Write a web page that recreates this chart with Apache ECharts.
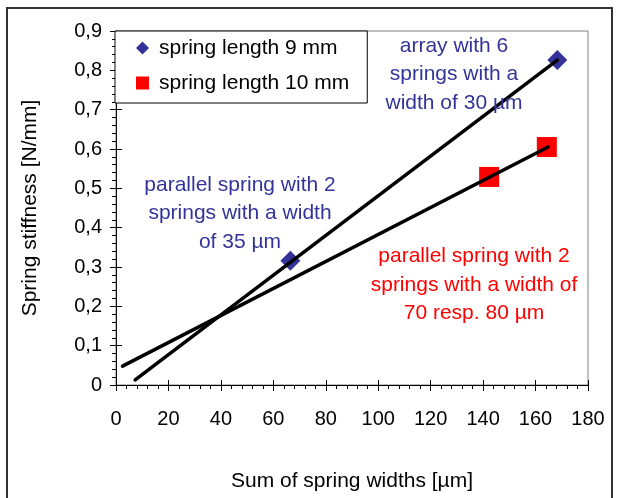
<!DOCTYPE html>
<html>
<head>
<meta charset="utf-8">
<title>Spring stiffness</title>
<script src="https://cdn.jsdelivr.net/npm/echarts@6/dist/echarts.min.js"></script>
<style>
  html, body { margin: 0; padding: 0; background: #fff; }
  #chart { width: 620px; height: 498px; }
</style>
</head>
<body>
<div id="chart"></div>
<script>
// 数据
var xTicks = [0, 20, 40, 60, 80, 100, 120, 140, 160, 180];
var yTicks = [0, 0.1, 0.2, 0.3, 0.4, 0.5, 0.6, 0.7, 0.8, 0.9];
var seriesNames = ['spring length 9 mm', 'spring length 10 mm'];
// spring length 9 mm
var len9Points = [[66.5, 0.316], [168.3, 0.826]];
// spring length 10 mm
var len10Points = [[142.3, 0.529], [164.3, 0.605]];
// trend lines (end points)
var len9Trend = [[7.3, 0.013], [168.3, 0.826]];
var len10Trend = [[2.5, 0.048], [164.8, 0.605]];
var notes = [
    'array with 6\nsprings with a\nwidth of 30 µm',
    'parallel spring with 2\nsprings with a width\nof 35 µm',
    'parallel spring with 2\nsprings with a width of\n70 resp. 80 µm'
];

var FONT = '"Liberation Sans", Arial, sans-serif';
var BLUE = '#333399';
var RED = '#ff0000';

var chart = echarts.init(document.getElementById('chart'), null, { renderer: 'canvas' });

function commaLabel(v) {
    if (v === 0) return '0';
    return v.toFixed(1).replace('.', ',');
}

var xMain = {
    type: 'value',
    position: 'bottom',
    min: xTicks[0],
    max: xTicks[xTicks.length - 1],
    interval: xTicks[1] - xTicks[0],
    name: 'Sum of spring widths [µm]',
    nameLocation: 'middle',
    nameGap: 86,
    nameTextStyle: { color: '#000', fontSize: 21, fontFamily: FONT },
    axisLine: { show: true, onZero: false, lineStyle: { color: '#000', width: 1 } },
    axisTick: { show: true, length: 6, lineStyle: { color: '#000' } },
    minorTick: { show: true, splitNumber: 5, length: 4, lineStyle: { color: '#000' } },
    axisLabel: { color: '#000', fontSize: 20, fontFamily: FONT, margin: 24 },
    splitLine: { show: false }
};
// inner half of the crossing major ticks
var xInner = {
    type: 'value',
    position: 'bottom',
    min: xMain.min, max: xMain.max, interval: xMain.interval,
    axisLine: { show: false },
    axisTick: { show: true, inside: true, length: 5, lineStyle: { color: '#000' } },
    axisLabel: { show: false },
    splitLine: { show: false }
};

var yMain = {
    type: 'value',
    position: 'left',
    min: yTicks[0],
    max: yTicks[yTicks.length - 1],
    interval: 0.1,
    name: 'Spring stiffness [N/mm]',
    nameLocation: 'middle',
    nameGap: 75,
    nameTextStyle: { color: '#000', fontSize: 21, fontFamily: FONT },
    axisLine: { show: true, onZero: false, lineStyle: { color: '#000', width: 1 } },
    axisTick: { show: true, length: 6, lineStyle: { color: '#000' } },
    minorTick: { show: true, splitNumber: 5, length: 4, lineStyle: { color: '#000' } },
    axisLabel: { color: '#000', fontSize: 20, fontFamily: FONT, margin: 14, formatter: commaLabel },
    splitLine: { show: false }
};
var yInner = {
    type: 'value',
    position: 'left',
    min: yMain.min, max: yMain.max, interval: yMain.interval,
    axisLine: { show: false },
    axisTick: { show: true, inside: true, length: 6, lineStyle: { color: '#000' } },
    axisLabel: { show: false },
    splitLine: { show: false }
};

var option = {
    backgroundColor: '#fff',
    animation: false,
    textStyle: { fontFamily: FONT },
    grid: {
        left: 116, top: 31, right: 32, bottom: 113,
        show: true, borderColor: '#808080', borderWidth: 1,
        backgroundColor: '#fff'
    },
    legend: {
        orient: 'vertical',
        left: 115,
        top: 31,
        padding: [6, 18, 9, 21],
        itemGap: 13,
        itemWidth: 13,
        itemHeight: 13,
        backgroundColor: '#fff',
        borderColor: '#000',
        borderWidth: 1,
        borderRadius: 0,
        z: 10,
        textStyle: { color: '#000', fontSize: 21, fontFamily: FONT, lineHeight: 22, padding: [0, 0, 0, 5] },
        data: [
            { name: seriesNames[0], icon: 'diamond' },
            { name: seriesNames[1], icon: 'rect' }
        ]
    },
    xAxis: [xMain, xInner],
    yAxis: [yMain, yInner],
    graphic: [
        {
            type: 'rect', z: 100, silent: true,
            shape: { x: 7, y: 8, width: 605, height: 520 },
            style: { fill: null, stroke: '#333', lineWidth: 2 }
        },
        {
            type: 'text', z: 50, silent: true,
            style: { x: 454, y: 74.5, text: notes[0], align: 'center', verticalAlign: 'middle',
                     fill: BLUE, fontSize: 21, fontFamily: FONT, lineHeight: 28.5 }
        },
        {
            type: 'text', z: 50, silent: true,
            style: { x: 240, y: 213.5, text: notes[1], align: 'center', verticalAlign: 'middle',
                     fill: BLUE, fontSize: 21, fontFamily: FONT, lineHeight: 28.5 }
        },
        {
            type: 'text', z: 50, silent: true,
            style: { x: 474, y: 285, text: notes[2], align: 'center', verticalAlign: 'middle',
                     fill: RED, fontSize: 21, fontFamily: FONT, lineHeight: 28.5 }
        }
    ],
    series: [
        {
            name: seriesNames[0],
            type: 'scatter',
            symbol: 'diamond',
            symbolSize: 20,
            itemStyle: { color: BLUE, opacity: 1 },
            data: len9Points,
            z: 2
        },
        {
            name: seriesNames[1],
            type: 'scatter',
            symbol: 'rect',
            symbolSize: 20,
            itemStyle: { color: RED, opacity: 1 },
            data: len10Points,
            z: 2
        },
        {
            name: 'trend 9 mm',
            type: 'line',
            showSymbol: false,
            symbol: 'none',
            lineStyle: { color: '#000', width: 3.5, cap: 'round' },
            data: len9Trend,
            z: 3
        },
        {
            name: 'trend 10 mm',
            type: 'line',
            showSymbol: false,
            symbol: 'none',
            lineStyle: { color: '#000', width: 3.5, cap: 'round' },
            data: len10Trend,
            z: 3
        }
    ]
};

chart.setOption(option);
</script>
</body>
</html>
